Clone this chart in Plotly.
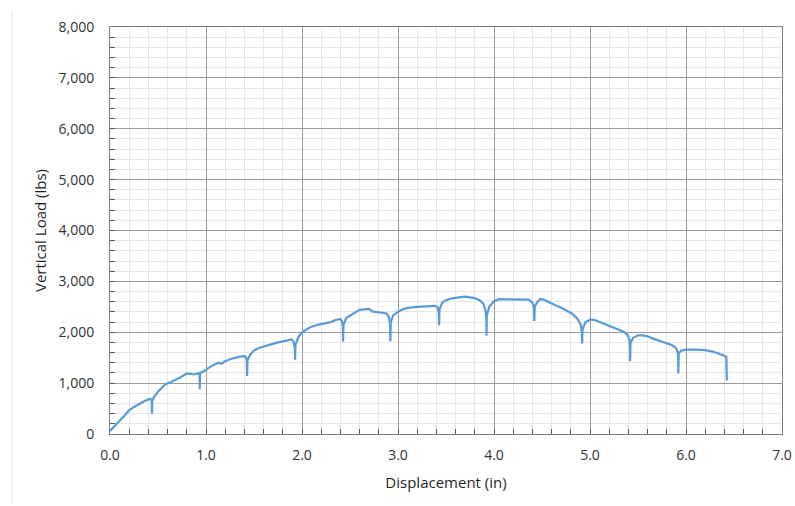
import plotly.graph_objects as go

disp = [0.00, 0.05, 0.10, 0.15, 0.20, 0.25, 0.30, 0.35, 0.40, 0.425, 0.435, 0.437, 0.44,
        0.46, 0.50, 0.55, 0.58, 0.62, 0.68, 0.74, 0.80, 0.84, 0.88, 0.92, 0.933, 0.935, 0.938,
        0.97, 1.00, 1.05, 1.10, 1.13, 1.16, 1.20, 1.25, 1.30, 1.35, 1.40, 1.415, 1.425, 1.428, 1.432,
        1.46, 1.50, 1.55, 1.60, 1.65, 1.70, 1.75, 1.80, 1.85, 1.89, 1.91, 1.925, 1.928, 1.932,
        1.96, 2.00, 2.05, 2.10, 2.15, 2.20, 2.25, 2.30, 2.35, 2.40, 2.415, 2.425, 2.428, 2.432,
        2.46, 2.50, 2.55, 2.60, 2.65, 2.70, 2.73, 2.78, 2.84, 2.88, 2.905, 2.918, 2.92, 2.925,
        2.95, 3.00, 3.05, 3.10, 3.20, 3.30, 3.38, 3.41, 3.425, 3.428, 3.432,
        3.46, 3.50, 3.55, 3.60, 3.65, 3.70, 3.75, 3.80, 3.85, 3.89, 3.91, 3.92, 3.922, 3.925,
        3.95, 4.00, 4.05, 4.10, 4.20, 4.30, 4.36, 4.40, 4.415, 4.42, 4.425,
        4.45, 4.48, 4.52, 4.58, 4.64, 4.70, 4.76, 4.82, 4.87, 4.905, 4.915, 4.918, 4.922,
        4.95, 5.00, 5.05, 5.10, 5.15, 5.20, 5.25, 5.30, 5.35, 5.39, 5.41, 5.415, 5.418, 5.422,
        5.45, 5.50, 5.55, 5.60, 5.65, 5.70, 5.75, 5.80, 5.85, 5.89, 5.91, 5.918, 5.92, 5.924,
        5.95, 6.00, 6.10, 6.20, 6.28, 6.35, 6.40, 6.42, 6.425]

load = [60, 150, 260, 360, 470, 530, 590, 640, 680, 690, 660, 400, 650,
        730, 830, 930, 980, 1010, 1060, 1120, 1190, 1180, 1170, 1190, 1190, 880, 1200,
        1230, 1260, 1330, 1380, 1400, 1380, 1430, 1470, 1500, 1520, 1530, 1510, 1450, 1140, 1450,
        1560, 1640, 1690, 1720, 1740, 1770, 1800, 1820, 1850, 1860, 1820, 1700, 1460, 1750,
        1900, 2000, 2060, 2110, 2140, 2160, 2180, 2200, 2240, 2260, 2220, 2120, 1820, 2150,
        2280, 2330, 2390, 2440, 2450, 2460, 2410, 2400, 2390, 2370, 2300, 2150, 1820, 2200,
        2330, 2400, 2450, 2480, 2500, 2510, 2520, 2500, 2380, 2140, 2450,
        2580, 2630, 2660, 2680, 2690, 2700, 2690, 2670, 2630, 2560, 2440, 2280, 1930, 2330,
        2500, 2610, 2650, 2650, 2650, 2650, 2640, 2580, 2500, 2220, 2510,
        2590, 2650, 2640, 2580, 2530, 2480, 2420, 2360, 2260, 2150, 2000, 1780, 2050,
        2190, 2250, 2240, 2200, 2160, 2130, 2090, 2050, 2010, 1950, 1860, 1750, 1430, 1800,
        1890, 1940, 1940, 1920, 1880, 1850, 1820, 1790, 1750, 1700, 1630, 1550, 1190, 1580,
        1640, 1660, 1660, 1650, 1620, 1580, 1540, 1520, 1050]

x_ticks = [0, 1, 2, 3, 4, 5, 6, 7]
x_tick_labels = ["0.0", "1.0", "2.0", "3.0", "4.0", "5.0", "6.0", "7.0"]
y_ticks = [0, 1000, 2000, 3000, 4000, 5000, 6000, 7000, 8000]
y_tick_labels = ["0", "1,000", "2,000", "3,000", "4,000", "5,000", "6,000", "7,000", "8,000"]

FONT = "Open Sans"
fig = go.Figure()
fig.add_trace(go.Scatter(x=disp, y=load, mode="lines",
                         line=dict(color="#5b9bd5", width=2.2), showlegend=False))

axis_common = dict(
    showline=True, linecolor="#7f7f7f", linewidth=1, mirror=True,
    showgrid=True, gridcolor="#9a9a9a", gridwidth=1,
    ticks="inside", ticklen=5, tickcolor="#595959",
    tickfont=dict(family=FONT, size=14, color="#333333"),
    zeroline=False, automargin=False,
)

fig.update_xaxes(range=[0, 7], tickvals=x_ticks, ticktext=x_tick_labels,
                 minor=dict(dtick=0.2, showgrid=True, gridcolor="#e6e6e6",
                            ticks="inside", ticklen=5, tickcolor="#595959"),
                 title=dict(text="Displacement (in)", font=dict(family=FONT, size=15, color="#1f1f1f"),
                            standoff=14),
                 ticklabelstandoff=8,
                 **axis_common)
fig.update_yaxes(range=[0, 8000], tickvals=y_ticks, ticktext=y_tick_labels,
                 minor=dict(dtick=200, showgrid=True, gridcolor="#e6e6e6",
                            ticks="inside", ticklen=5, tickcolor="#595959"),
                 title=dict(text="Vertical Load (lbs)", font=dict(family=FONT, size=15, color="#1f1f1f"),
                            standoff=8),
                 ticklabelstandoff=12,
                 **axis_common)

# faint chart-area border on the left
fig.add_shape(type="line", xref="paper", yref="paper",
              x0=(12 - 110) / 672, x1=(12 - 110) / 672,
              y0=(434 - 505) / 407, y1=(434 - 10) / 407,
              line=dict(color="#e6e6e6", width=1))

fig.update_layout(width=795, height=506,
                  margin=dict(l=110, r=13, t=27, b=72),
                  paper_bgcolor="white", plot_bgcolor="white",
                  font=dict(family=FONT))

# remove the browser's default 8px body margin so the figure fills the window
fig.write_html("out.html",
               config={"displayModeBar": False},
               post_script="document.body.style.margin='0';document.body.style.overflow='hidden';")
